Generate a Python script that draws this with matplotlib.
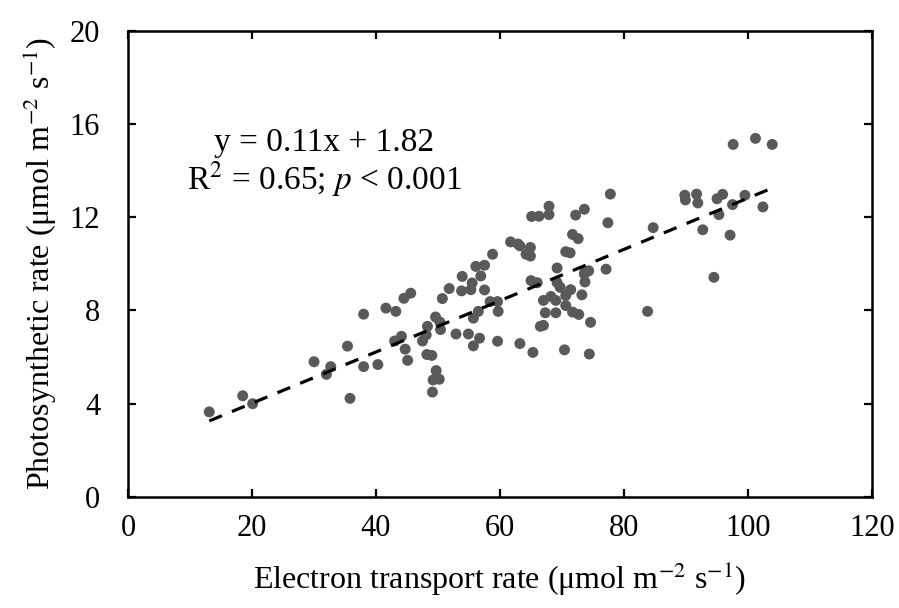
import numpy as np
import matplotlib
matplotlib.use("Agg")
import matplotlib.pyplot as plt

plt.rcParams['font.family'] = ['Liberation Serif', 'DejaVu Serif']
plt.rcParams['mathtext.fontset'] = 'stix'

# electron transport rate (x) and photosynthetic rate (y)
etr = [13.1, 18.5, 20.1, 30.0, 32.0, 32.7, 35.4, 35.8, 38.0, 38.0, 40.3,
       41.6, 43.2, 44.5, 45.6, 43.0, 44.1, 44.7, 45.1, 47.5, 48.1, 48.3,
       48.2, 49.0, 49.6, 50.3, 50.4, 49.7, 49.2, 50.2, 49.1, 50.7, 51.8,
       52.9, 54.9, 55.7, 56.7, 53.8, 53.9, 55.5, 55.3, 56.1, 57.5, 56.9,
       57.5, 58.8, 58.4, 59.6, 55.7, 56.5, 59.7, 59.6,
       61.7, 63.2, 64.2, 64.9, 64.9, 63.2, 65.3, 65.1, 66.3, 67.9, 67.9,
       72.2, 73.6, 77.8, 77.4, 65.0, 66.0, 69.2, 69.2, 69.7, 70.6, 71.3,
       71.7, 72.6, 67.0, 68.2, 69.0, 67.3, 69.0, 70.6, 71.4, 70.6, 71.7,
       72.7, 73.2, 73.7, 74.3, 73.7, 77.1, 67.0, 66.5, 74.6, 70.4, 74.4,
       83.8, 62.9, 73.6,
       84.7, 89.8, 89.9, 91.7, 91.9, 92.7, 94.5, 95.0, 95.9, 95.3, 97.5,
       97.1, 99.5, 102.4, 97.6, 101.2, 103.9]
pn = [3.65, 4.34, 4.00, 5.80, 5.26, 5.59, 6.47, 4.23, 7.84, 5.59, 5.68,
      8.10, 7.96, 8.52, 8.74, 6.69, 6.89, 6.34, 5.86, 6.69, 6.95, 7.32,
      6.11, 6.07, 7.72, 7.50, 7.18, 5.42, 5.02, 5.05, 4.50, 8.51, 8.94,
      6.99, 6.99, 6.48, 6.81, 8.84, 9.46, 9.18, 8.89, 9.89, 9.94, 9.48,
      8.88, 10.41, 8.38, 8.38, 7.67, 7.96, 7.96, 6.68,
      10.94, 10.77, 10.41, 10.70, 10.33, 6.58, 6.20, 12.03, 12.04, 12.47, 12.11,
      12.09, 12.34, 12.99, 11.76, 9.28, 9.19, 9.82, 9.20, 8.99, 10.52, 10.47,
      11.26, 11.08, 8.43, 8.60, 8.43, 7.90, 7.90, 8.64, 8.89, 8.21, 7.93,
      7.83, 8.67, 9.65, 9.70, 9.22, 9.77, 7.36, 7.32, 7.49, 6.31, 6.13,
      7.96, 10.85, 9.56,
      11.55, 12.94, 12.74, 12.99, 12.61, 11.46, 9.42, 12.79, 12.98, 12.11, 12.54,
      11.23, 12.94, 12.44, 15.12, 15.38, 15.12]

fit_slope = 0.11
fit_intercept = 1.82

x_ticks = [0, 20, 40, 60, 80, 100, 120]
y_ticks = [0, 4, 8, 12, 16, 20]

fig = plt.figure(figsize=(8.99, 6.08), dpi=100, facecolor='white')
ax = fig.add_axes([0.1424, 0.1826, 0.8276, 0.767])

ax.scatter(etr, pn, s=62, color='#595959', edgecolors='none', zorder=3)

# trend line over the range of the data
fx = np.array([min(etr), max(etr)])
ax.plot(fx, fit_slope * fx + fit_intercept, color='black', lw=2.3,
        linestyle=(0, (4.3, 3.4)), dash_capstyle='butt', zorder=4)

ax.set_xlim(0, 120)
ax.set_ylim(0, 20)
ax.set_xticks(x_ticks)
ax.set_yticks(y_ticks)

for s in ax.spines.values():
    s.set_linewidth(1.8)
    s.set_color('black')

ax.tick_params(axis='both', direction='in', length=6, width=1.6,
               top=True, right=True, labelsize=22)
ax.tick_params(axis='x', pad=12)
ax.tick_params(axis='y', pad=20)

ax.set_xlabel(r'Electron transport rate (μmol m$^{-2}$ s$^{-1}$)', fontsize=23, labelpad=12)
ax.set_ylabel(r'Photosynthetic rate (μmol m$^{-2}$ s$^{-1}$)', fontsize=23, labelpad=8)

ax.text(31.6, 15.2, 'y = 0.11x + 1.82', fontsize=24, ha='center', va='center')
ax.text(31.6, 13.65, r'R$^{2}$ = 0.65; $p$ < 0.001', fontsize=24, ha='center', va='center')

plt.savefig('out.png', dpi=100, facecolor='white')
plt.close()
